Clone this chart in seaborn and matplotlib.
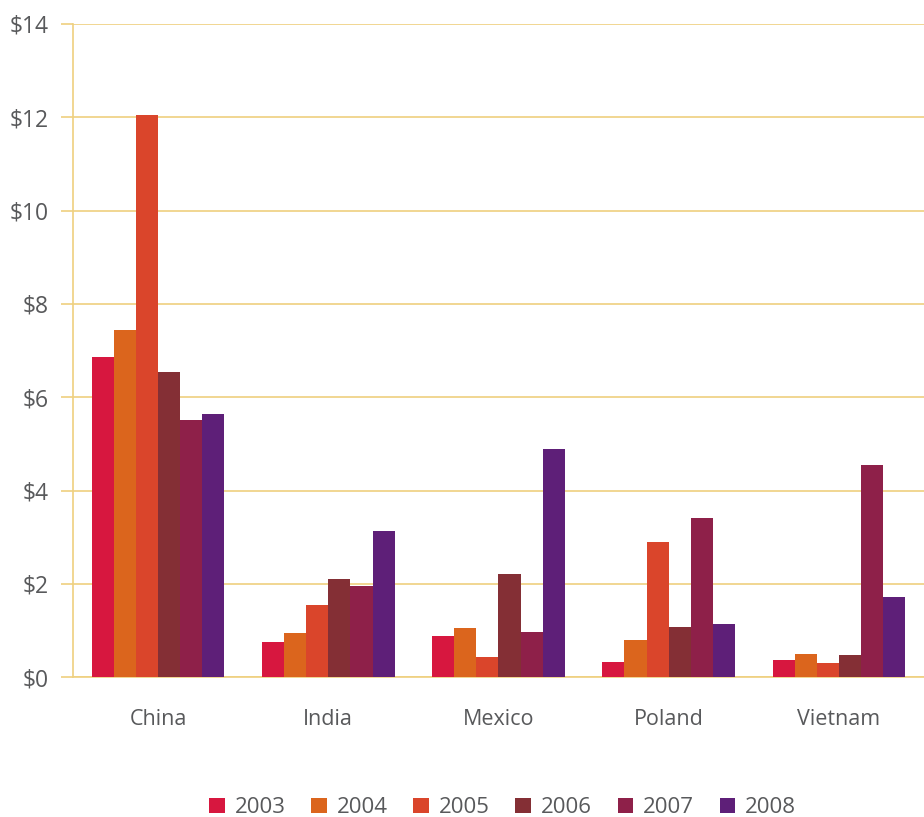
import seaborn as sns
import pandas as pd
import matplotlib.pyplot as plt
from matplotlib.ticker import FuncFormatter

# data
countries = ['China', 'India', 'Mexico', 'Poland', 'Vietnam']
years = ['2003', '2004', '2005', '2006', '2007', '2008']
v2003 = [6.86, 0.75, 0.88, 0.32, 0.36]
v2004 = [7.44, 0.94, 1.05, 0.79, 0.49]
v2005 = [12.05, 1.54, 0.43, 2.89, 0.30]
v2006 = [6.54, 2.10, 2.21, 1.07, 0.47]
v2007 = [5.51, 1.95, 0.96, 3.41, 4.55]
v2008 = [5.64, 3.13, 4.89, 1.14, 1.72]
colors = ['#D7173F', '#DB651D', '#DA452B', '#842F35', '#8E2049', '#5E1F78']

series = [v2003, v2004, v2005, v2006, v2007, v2008]
rows = []
for y, vals in zip(years, series):
    for c, v in zip(countries, vals):
        rows.append({'country': c, 'year': y, 'value': v})
df = pd.DataFrame(rows)

sns.set_theme(style='white')
plt.rcParams['font.family'] = ['Open Sans', 'DejaVu Sans']
grid_col = '#EFD07F'
text_col = '#58595B'

fig = plt.figure(figsize=(9.24, 8.17), dpi=100)
ax = fig.add_axes([0.079, 0.171, 0.921, 0.7997])

sns.barplot(data=df, x='country', y='value', hue='year', palette=colors,
            width=0.78, saturation=1, errorbar=None, linewidth=0, ax=ax, zorder=3)

ax.set_ylim(0, 14)
ax.set_xlim(-0.5, 4.5)
ax.set_yticks(range(0, 15, 2))
ax.yaxis.set_major_formatter(FuncFormatter(lambda v, p: '$%d' % v))
ax.yaxis.grid(True, color=grid_col, linewidth=1.2, zorder=0)
ax.set_axisbelow(True)
ax.set_xlabel('')
ax.set_ylabel('')

for s in ['top', 'right']:
    ax.spines[s].set_visible(False)
for s in ['left', 'bottom']:
    ax.spines[s].set_color(grid_col)
    ax.spines[s].set_linewidth(1.2)

ax.tick_params(axis='y', left=True, length=8.6, width=1.2, color=grid_col,
               labelsize=16.5, labelcolor=text_col, pad=9)
ax.tick_params(axis='x', bottom=False, labelsize=15.5, labelcolor=text_col, pad=17)

leg = ax.legend(loc='center', bbox_to_anchor=(0.505, -0.2), ncol=6, frameon=False,
                fontsize=16, handlelength=0.7, handleheight=0.7,
                handletextpad=0.45, columnspacing=1.15, labelcolor=text_col)

fig.savefig('out.png', dpi=100)
